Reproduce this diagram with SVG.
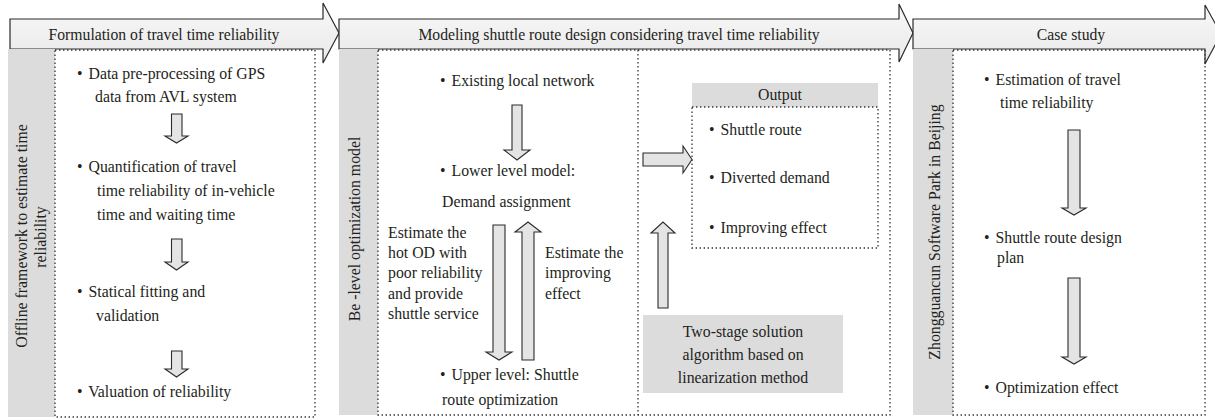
<svg xmlns="http://www.w3.org/2000/svg" width="1215" height="419" viewBox="0 0 1215 419">
<defs>
<linearGradient id="hg" x1="0" y1="0" x2="0" y2="1">
<stop offset="0" stop-color="#f8f8f8"/>
<stop offset="1" stop-color="#e9e9e9"/>
</linearGradient>
</defs>
<style>
text{font-family:"Liberation Serif","Times New Roman",serif;font-size:15.8px;fill:#231f20}
.hd{font-size:15.7px}
.mid{text-anchor:middle}
.head{fill:url(#hg);stroke:#2b2b2b;stroke-width:1.2}
.bar{fill:#dcdcdc;stroke:none}
.dot{fill:none;stroke:#333;stroke-width:1.3;stroke-dasharray:1.4 2.6}
.ar{fill:#e4e4e4;stroke:#2b2b2b;stroke-width:1.1}
.gbox{fill:#dcdcdc;stroke:none}
</style>

<g id="stage1">
<path class="head" d="M10 19 H323 V3 L339 33 L323 63 V49 H10 Z"/>
<text class="hd mid" x="164" y="40">Formulation of travel time reliability</text>
<rect class="bar" x="8" y="49" width="47" height="368"/>
<rect class="dot" x="55" y="50" width="260" height="367"/>
<g transform="translate(27,236) rotate(-90)"><text class="mid" x="0" y="0">Offline framework to estimate time</text></g>
<g transform="translate(46,237) rotate(-90)"><text class="mid" x="0" y="0">reliability</text></g>
</g>

<g id="stage2">
<path class="head" d="M339 19 H899 V4 L913 33 L899 62 V49 H339 Z"/>
<text class="hd mid" x="619" y="40">Modeling shuttle route design considering travel time reliability</text>
<rect class="bar" x="339" y="49" width="39" height="366"/>
<rect class="dot" x="378" y="50" width="512" height="365"/>
<line class="dot" x1="638" y1="50" x2="638" y2="415"/>
<g transform="translate(360,229) rotate(-90)"><text class="mid" x="0" y="0">Be -level optimization model</text></g>
</g>

<g id="stage3">
<path class="head" d="M913 19 H1205 V5 L1221 34 L1205 64 V49 H913 Z"/>
<text class="hd mid" x="1071" y="40">Case study</text>
<rect class="bar" x="913" y="49" width="40" height="366"/>
<rect class="dot" x="953" y="50" width="252" height="365"/>
<g transform="translate(940,232) rotate(-90)"><text class="mid" x="0" y="0">Zhongguancun Software Park in Beijing</text></g>
</g>

<g id="n-gps"><text x="77" y="79">• <tspan dx="2">Data pre-processing of GPS</tspan></text><text x="95" y="102">data from AVL system</text></g>
<g id="n-quant"><text x="77" y="172">• <tspan dx="2">Quantification of travel</tspan></text><text x="97" y="196">time reliability of in-vehicle</text><text x="97" y="220">time and waiting time</text></g>
<g id="n-fit"><text x="77" y="297">• <tspan dx="2">Statical fitting and</tspan></text><text x="96" y="321">validation</text></g>
<g id="n-val"><text x="77" y="397">• <tspan dx="2">Valuation of reliability</tspan></text></g>

<g id="n-network"><text x="440" y="86">• <tspan dx="2">Existing local network</tspan></text></g>
<g id="n-lower"><text x="440" y="176">• <tspan dx="2">Lower level model:</tspan></text><text x="442" y="207">Demand assignment</text></g>
<g id="n-hotod"><text x="388" y="238">Estimate the</text><text x="388" y="258">hot OD with</text><text x="388" y="278">poor reliability</text><text x="388" y="299">and provide</text><text x="388" y="319">shuttle service</text></g>
<g id="n-improve"><text x="545" y="258">Estimate the</text><text x="545" y="278">improving</text><text x="545" y="299">effect</text></g>
<g id="n-upper"><text x="440" y="380">• <tspan dx="2">Upper level: Shuttle</tspan></text><text x="442" y="405">route optimization</text></g>

<g id="n-output">
<rect class="gbox" x="692" y="83" width="186" height="24"/>
<text class="mid" x="780" y="100">Output</text>
<rect class="dot" x="692" y="107" width="186" height="141"/>
<text x="709" y="135">• <tspan dx="2">Shuttle route</tspan></text>
<text x="709" y="183">• <tspan dx="2">Diverted demand</tspan></text>
<text x="709" y="233">• <tspan dx="2">Improving effect</tspan></text>
</g>
<g id="n-algo">
<rect class="gbox" x="643" y="315" width="200" height="78"/>
<text class="mid" x="743" y="337">Two-stage solution</text>
<text class="mid" x="743" y="360">algorithm based on</text>
<text class="mid" x="743" y="383">linearization method</text>
</g>

<g id="n-est"><text x="984" y="85">• <tspan dx="2">Estimation of travel</tspan></text><text x="1000" y="108">time reliability</text></g>
<g id="n-plan"><text x="984" y="243">• <tspan dx="2">Shuttle route design</tspan></text><text x="997" y="263">plan</text></g>
<g id="n-opt"><text x="984" y="393">• <tspan dx="2">Optimization effect</tspan></text></g>

<g id="connectors">
<path class="ar" d="M171.5 114 H182 V136 H188 L176.5 143 L165 136 H171.5 Z"/>
<path class="ar" d="M171.5 239 H182 V262 H188 L176.5 270 L165 262 H171.5 Z"/>
<path class="ar" d="M171.5 351 H182 V369 H188 L176.5 377 L165 369 H171.5 Z"/>
<path class="ar" d="M512 105 H522 V150 H530 L517 160 L504 150 H512 Z"/>
<path class="ar" d="M493 225 H505 V352 H512 L499 360 L486 352 H493 Z"/>
<path class="ar" d="M522 360 H534 V232 H541 L528 222 L515 232 H522 Z"/>
<path class="ar" d="M643 153 H683 V146 L692 159.5 L683 173 V166 H643 Z"/>
<path class="ar" d="M658 308 H668 V233 H675 L663 222 L651 233 H658 Z"/>
<path class="ar" d="M1068 130 H1080 V208 H1086 L1074 215 L1062 208 H1068 Z"/>
<path class="ar" d="M1068 278 H1080 V357 H1086 L1074 364 L1062 357 H1068 Z"/>
</g>
</svg>
